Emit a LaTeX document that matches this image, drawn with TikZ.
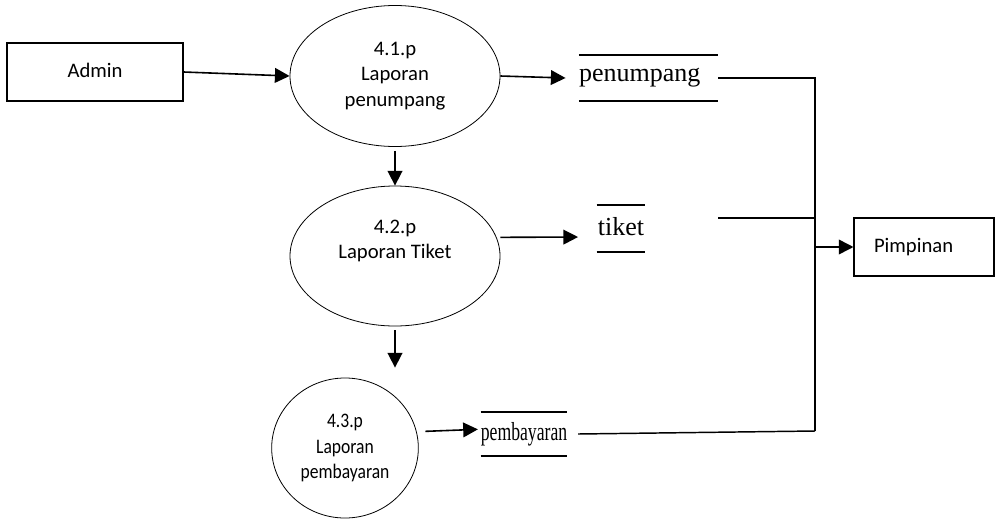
\documentclass[tikz,border=0pt]{standalone}
\usepackage{fontspec}
\setmainfont{Carlito}
\newfontfamily\storefont{Liberation Serif}
\usepackage{graphicx}
\usetikzlibrary{arrows.meta,shapes.geometric}
\newcommand{\narrowtxt}[1]{\scalebox{0.85}[1]{#1}}

\begin{document}
\begin{tikzpicture}[x=0.75pt,y=-0.75pt,
    font=\fontsize{15.5}{19}\selectfont,
    ent_node/.style={rectangle,draw,line width=0.8pt,minimum height=43.5pt,inner sep=0pt},
    proc_node/.style={ellipse,draw,line width=0.6pt,inner sep=0pt,align=center},
    store_node/.style={inner sep=0pt,minimum height=34.5pt,font=\storefont\fontsize{19.5}{22}\selectfont},
    arr/.style={line width=1.2pt,-{Triangle[length=11pt,width=11pt]}},
    flow/.style={line width=1.1pt}]

    \useasboundingbox (0,0) rectangle (995,518);

    \node[ent_node, minimum width=132pt] (admin) at (95,72) {\raisebox{3pt}{Admin}};
    \node[ent_node, minimum width=105pt, text width=75pt, align=left] (pimpinan) at (924,247) {Pimpinan};

    \node[proc_node, minimum width=157.5pt, minimum height=105.75pt] (p1) at (395,76) {4.1.p\\Laporan\\penumpang};
    \node[proc_node, minimum width=157.5pt, minimum height=105pt] (p2) at (395,256) {4.2.p\\Laporan Tiket\\ \strut};
    \node[proc_node, minimum width=110pt, minimum height=105pt] (p3) at (345,448) {\narrowtxt{4.3.p}\\\narrowtxt{Laporan}\\\narrowtxt{pembayaran}};

    \node[store_node, minimum width=104pt, text width=104pt, align=left] (s1) at (648.5,78) {\raisebox{3pt}{penumpang}};
    \node[store_node, minimum width=36pt, minimum height=35pt] (s2) at (621,228.5) {\raisebox{3pt}{tiket}};
    \node[store_node, minimum width=64.5pt, minimum height=33pt] (s3) at (524,434) {\scalebox{0.68}[1]{pembayaran}};
    \foreach \s in {s1,s2,s3}
        \draw[line width=1.2pt] (\s.north west) -- (\s.north east) (\s.south west) -- (\s.south east);

    \coordinate (t0) at (718,218);
    \coordinate (j4) at (815,431);

    \draw[arr] (admin.east) -- (p1.west);
    \draw[arr] (p1.east) -- ([xshift=-10pt]s1.west);
    \draw[arr] ([yshift=-3pt]p1.south) -- (p2.north);
    \draw[arr] ([yshift=14pt]p2.east) -- ([xshift=-14pt,yshift=-6.4pt]s2.west);
    \draw[arr] ([yshift=-3pt]p2.south) -- ([yshift=7.5pt]p2.south |- p3.north);
    \draw[arr] ([xshift=5pt,yshift=12.5pt]p3.east) -- ([xshift=-2pt,yshift=3.5pt]s3.west);

    \draw[flow] (s1.east) -| (j4);
    \draw[flow] ([xshift=8pt]s3.east) -- (j4);
    \draw[flow] (t0) -- (t0 -| j4);
    \draw[arr] (pimpinan.west -| j4) -- (pimpinan.west);
\end{tikzpicture}
\end{document}
